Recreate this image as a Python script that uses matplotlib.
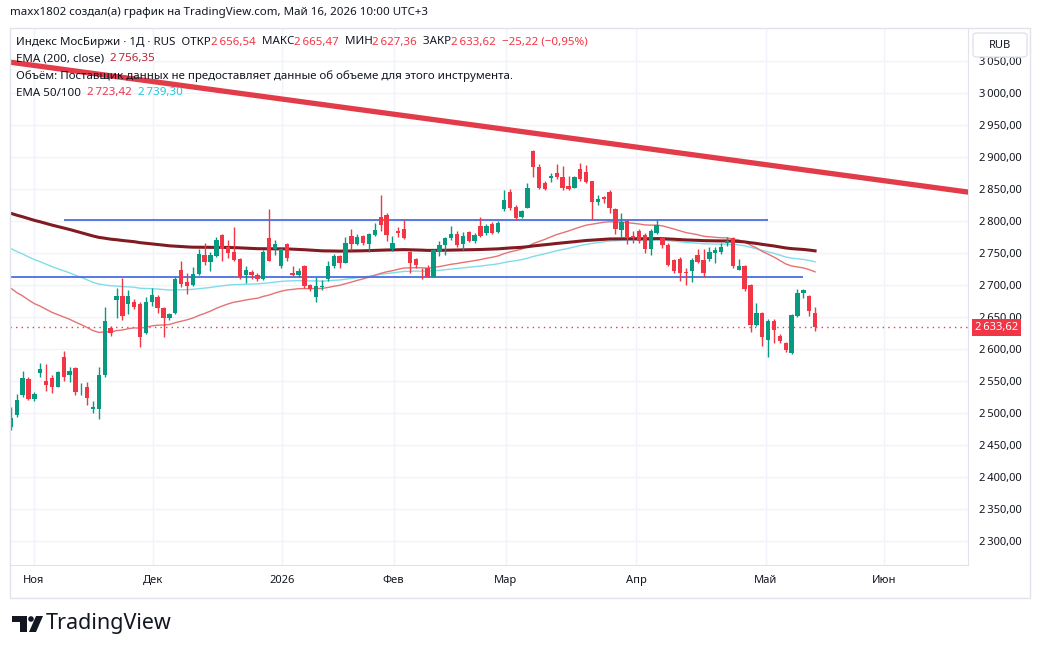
import numpy as np
import matplotlib
matplotlib.use("Agg")
from matplotlib import pyplot as plt
from matplotlib.patches import FancyBboxPatch, Rectangle, Polygon, Circle

plt.rcParams["font.family"] = ["Noto Sans", "DejaVu Sans"]

W, H = 1040, 654

# daily candles, IMOEX, late Oct 2025 .. 15 May 2026 (bar index = trading day)
opens = [2478, 2497, 2528, 2553, 2522, 2563, 2550, 2555, 2541, 2587, 2559, 2571, 2540, 2540, 2507,
         2506, 2560, 2633, 2676, 2683, 2670, 2674, 2671, 2625, 2673, 2682, 2664, 2648,
         2656, 2724, 2704, 2700, 2717, 2747, 2736, 2746, 2778, 2760, 2751, 2741, 2716, 2720, 2716,
         2710, 2773, 2756, 2729, 2764, 2718, 2715, 2730, 2700, 2682, 2697, 2709, 2730,
         2745, 2735, 2777, 2764, 2776, 2764, 2778, 2806, 2810, 2756, 2784, 2787, 2751, 2740, 2724,
         2726, 2713, 2752, 2762, 2773, 2780, 2764, 2783, 2769, 2792, 2781, 2796, 2783,
         2818, 2846, 2822, 2806, 2821, 2909, 2885, 2860, 2867, 2875, 2868, 2855, 2852, 2881, 2877,
         2862, 2830, 2837, 2845, 2819, 2786, 2800, 2776, 2785, 2778, 2757, 2781,
         2773, 2763, 2739, 2740, 2720, 2722, 2747, 2739, 2740, 2750, 2752, 2766, 2773, 2724, 2730,
         2700, 2638, 2656, 2614, 2643, 2621, 2609, 2594, 2651, 2688, 2683, 2656.54]
highs = [2510, 2530, 2565, 2557, 2533, 2578, 2577, 2559, 2566, 2597, 2572, 2572, 2547, 2549, 2518,
         2572, 2666, 2636, 2695, 2711, 2692, 2678, 2674, 2682, 2695, 2684, 2666, 2657,
         2712, 2738, 2718, 2728, 2757, 2766, 2752, 2775, 2780, 2770, 2790, 2742, 2730, 2724, 2718,
         2755, 2818, 2770, 2758, 2766, 2729, 2726, 2732, 2702, 2713, 2708, 2737, 2748,
         2747, 2775, 2787, 2779, 2778, 2781, 2797, 2841, 2812, 2777, 2790, 2802, 2753, 2742, 2726,
         2731, 2756, 2769, 2775, 2792, 2785, 2783, 2785, 2781, 2807, 2795, 2798, 2800,
         2848, 2850, 2825, 2817, 2860, 2911, 2889, 2862, 2875, 2889, 2886, 2870, 2871, 2890, 2887,
         2863, 2841, 2839, 2848, 2820, 2813, 2802, 2785, 2787, 2781, 2787, 2802,
         2775, 2765, 2741, 2743, 2726, 2742, 2756, 2756, 2760, 2760, 2765, 2775, 2775, 2740, 2732,
         2702, 2672, 2658, 2647, 2647, 2623, 2611, 2655, 2693, 2693, 2685, 2665.47]
lows = [2473, 2493, 2525, 2520, 2519, 2557, 2535, 2531, 2540, 2550, 2549, 2528, 2528, 2512, 2500,
        2490, 2557, 2620, 2648, 2645, 2655, 2662, 2603, 2623, 2667, 2656, 2618, 2645,
        2654, 2697, 2686, 2698, 2715, 2731, 2722, 2744, 2737, 2742, 2738, 2710, 2703, 2709, 2706,
        2708, 2737, 2747, 2727, 2737, 2714, 2713, 2695, 2690, 2674, 2692, 2707, 2727,
        2726, 2734, 2755, 2762, 2762, 2752, 2776, 2785, 2769, 2753, 2775, 2772, 2719, 2726, 2710,
        2712, 2712, 2745, 2747, 2771, 2760, 2755, 2767, 2766, 2775, 2778, 2780, 2781,
        2815, 2817, 2802, 2804, 2820, 2869, 2850, 2848, 2861, 2865, 2848, 2848, 2851, 2863, 2860,
        2802, 2825, 2828, 2812, 2779, 2775, 2764, 2765, 2765, 2750, 2747, 2779,
        2758, 2729, 2718, 2707, 2700, 2705, 2734, 2713, 2738, 2735, 2749, 2761, 2726, 2723, 2691,
        2627, 2636, 2604, 2588, 2609, 2609, 2596, 2592, 2650, 2679, 2651, 2627.36]
closes = [2492, 2521, 2555, 2522, 2530, 2569, 2543, 2540, 2564, 2556, 2565, 2533, 2541, 2523, 2509,
          2560, 2644, 2625, 2683, 2651, 2683, 2665, 2618, 2673, 2685, 2664, 2648, 2655,
          2710, 2701, 2699, 2717, 2748, 2736, 2747, 2771, 2756, 2750, 2739, 2712, 2723, 2716, 2709,
          2752, 2738, 2764, 2756, 2742, 2716, 2722, 2698, 2693, 2699, 2699, 2730, 2746,
          2734, 2766, 2764, 2775, 2765, 2779, 2786, 2794, 2778, 2765, 2782, 2773, 2734, 2731, 2723,
          2713, 2754, 2762, 2773, 2780, 2762, 2777, 2769, 2778, 2776, 2792, 2782, 2797,
          2833, 2820, 2804, 2816, 2851, 2885, 2851, 2850, 2870, 2868, 2851, 2850, 2869, 2865, 2861,
          2830, 2835, 2835, 2820, 2787, 2799, 2773, 2774, 2768, 2757, 2785, 2794,
          2763, 2731, 2722, 2718, 2718, 2739, 2736, 2719, 2752, 2755, 2759, 2769, 2729, 2730, 2693,
          2638, 2656, 2618, 2643, 2630, 2612, 2598, 2653, 2688, 2692, 2658.84, 2633.62]

# EMA values at the first visible bar (history before it is not on the chart)
ema_seed = {50: 2695, 100: 2757, 200: 2812}

month_bars = [3.9, 24.2, 46.2, 65.2, 84.3, 106.5, 128.6, 148.7]
month_labels = ["Ноя", "Дек", "2026", "Фев", "Мар", "Апр", "Май", "Июн"]

trend_pts = [(0, 3048), (160, 2849)]
level_hi = (2801, 9, 129)      # price, from bar, to bar
level_lo = (2712, -1, 135)
last_close = 2633.62

price_ticks = np.arange(2300, 3051, 50)

GREEN, RED = "#089981", "#f23645"
TXT = "#131722"
FS = 8.3


def ru(v):
    return f"{v:,.2f}".replace(",", " ").replace(".", ",").replace(" ", "\u202f")


def ema(vals, n, seed):
    a = 2 / (n + 1)
    out = [seed]
    for v in vals[1:]:
        out.append(out[-1] + a * (v - out[-1]))
    return np.array(out)


fig = plt.figure(figsize=(W / 100, H / 100), dpi=100)
fig.patch.set_facecolor("white")

# plot area in pixels: x 10..968, y 28..565
ax = fig.add_axes([10 / W, 1 - 565 / H, 958 / W, 537 / H])
dx = 5.87
x0 = -0.15
ax.set_xlim(x0, x0 + 958 / dx)
ax.set_ylim(3000 - (565 - 93) / 0.64, 3000 + (93 - 28) / 0.64)

o, h, l, c = map(np.array, (opens, highs, lows, closes))
idx = np.arange(len(c))
col = np.where(c >= o, GREEN, RED)
ax.vlines(idx, l, h, colors=col, lw=1, zorder=3)
body = np.maximum(np.abs(c - o), 1.2)
ax.bar(idx, body, bottom=np.minimum(o, c), width=0.74, color=col, lw=0, zorder=4)

e50 = ema(closes, 50, ema_seed[50])
e100 = ema(closes, 100, ema_seed[100])
e200 = ema(closes, 200, ema_seed[200])
ax.plot(idx, e100, color="#7fdde9", lw=1, zorder=2)
ax.plot(idx, e50, color="#e57373", lw=1, zorder=2)
ax.plot(idx, e200, color="#801b22", lw=2.2, zorder=2)

ax.hlines(level_hi[0], level_hi[1], level_hi[2], color="#4a6ee0", lw=1.3, zorder=2)
ax.hlines(level_lo[0], level_lo[1], level_lo[2], color="#4a6ee0", lw=1.3, zorder=2)
ax.axline(trend_pts[0], trend_pts[1], color="#e23b4a", lw=3.8, zorder=5)
ax.axhline(last_close, color=RED, lw=1, ls=(0, (1, 3)), zorder=1)

ax.set_yticks(price_ticks)
ax.set_yticklabels([ru(v) for v in price_ticks])
ax.yaxis.tick_right()
ax.tick_params(axis="y", length=0, pad=8, labelsize=8, labelcolor=TXT)
ax.set_xticks(month_bars)
ax.set_xticklabels(month_labels)
for t in ax.get_xticklabels():
    if t.get_text() == "2026":
        t.set_fontweight("bold")
ax.tick_params(axis="x", length=0, pad=7, labelsize=8, labelcolor=TXT)
ax.grid(color="#f0f3fa", lw=1)
ax.set_axisbelow(True)
for s in ("top", "left"):
    ax.spines[s].set_visible(False)
for s in ("right", "bottom"):
    ax.spines[s].set_color("#e0e3eb")

ax.annotate(ru(last_close), xy=(1, last_close), xycoords=("axes fraction", "data"),
            xytext=(5, 0), textcoords="offset points", va="center", ha="left",
            fontsize=8, fontweight="bold", color="white", annotation_clip=False,
            bbox=dict(boxstyle="square,pad=0.3", fc=RED, ec="none"), zorder=10)

# widget frame
fig.patches.append(Rectangle((10 / W, 1 - 598 / H), 1020 / W, 570 / H, transform=fig.transFigure,
                             fill=False, ec="#e0e3eb", lw=1))
fig.patches.append(FancyBboxPatch((973 / W, 1 - 57 / H), 54 / W, 24 / H, transform=fig.transFigure,
                                  boxstyle="round,pad=0,rounding_size=0.004", fc="white",
                                  ec="#e0e3eb", lw=1, zorder=5))
fig.text(1000 / W, 1 - 45 / H, "RUB", ha="center", va="center", fontsize=8, color=TXT, zorder=6)

renderer = fig.canvas.get_renderer()


def seq(x, y, parts, size=FS):
    for s, colr in parts:
        t = fig.text(x / W, 1 - y / H, s, color=colr, fontsize=size, va="center", ha="left", zorder=6)
        x = t.get_window_extent(renderer=renderer).x1


fig.text(10 / W, 1 - 12 / H, "maxx1802 создал(а) график на TradingView.com, Май 16, 2026 10:00 UTC+3",
         fontsize=FS, color=TXT, va="center")
seq(16, 42, [("Индекс МосБиржи · 1Д · RUS  ОТКР", TXT), (ru(opens[-1]), RED), ("  МАКС", TXT),
             (ru(highs[-1]), RED), ("  МИН", TXT), (ru(lows[-1]), RED), ("  ЗАКР", TXT),
             (ru(closes[-1]), RED), ("  −25,22 (−0,95%)", RED)])
seq(16, 59, [("EMA (200, close)  ", TXT), ("2\u202f756,35", "#b2283a")])
seq(16, 76, [("Объём: Поставщик данных не предоставляет данные об объеме для этого инструмента.", TXT)])
seq(16, 93, [("EMA 50/100  ", TXT), ("2\u202f723,42", "#e53950"), ("  ", TXT), ("2\u202f739,30", "#22c5dc")])


# TradingView logo, pixel coords measured from top
def pix(pts):
    return [(x, H - y) for x, y in pts]


fig.patches.append(Polygon(pix([(12, 616), (27, 616), (27, 632), (20, 632), (20, 622), (12, 622)]),
                           closed=True, transform=None, fc=TXT))
fig.patches.append(Circle((31, H - 619), 2.8, transform=None, fc=TXT))
fig.patches.append(Polygon(pix([(36, 616), (43, 616), (36, 632), (29, 632)]), closed=True,
                           transform=None, fc=TXT))
fig.text(46 / W, 1 - 624 / H, "TradingView", fontsize=15.5, fontweight="bold", color=TXT, va="center")

fig.savefig("out.png", dpi=100)
